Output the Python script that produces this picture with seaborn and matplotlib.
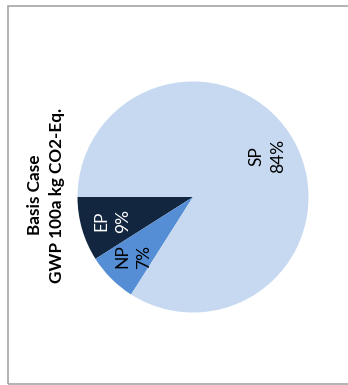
import matplotlib
matplotlib.use("Agg")
import matplotlib.pyplot as plt
import seaborn as sns
from matplotlib.patches import Rectangle

sns.set_theme(style="white")
plt.rcParams["font.family"] = ["Lato", "DejaVu Sans"]

# Share of GWP 100a (kg CO2-Eq.) per process
categories = ["EP", "NP", "SP"]
shares = [9, 7, 84]
colors = ["#12263f", "#558ed5", "#c6d9f1"]
text_colors = ["white", "black", "black"]
title = "Basis Case\nGWP 100a kg CO2-Eq."

fig = plt.figure(figsize=(3.48, 3.85), dpi=100)
fig.patch.set_facecolor("white")

# chart frame
fig.patches.append(Rectangle((7.5 / 348, 1 / 385), 1.2, 378.5 / 385,
                             transform=fig.transFigure, fill=False,
                             edgecolor="#a6a6a6", linewidth=1.2))

ax = fig.add_axes([77.5 / 348, 72.5 / 385, 231 / 348, 231 / 385])
labels = [f"{c}\n{v}%" for c, v in zip(categories, shares)]
wedges, texts = ax.pie(shares, labels=labels, colors=colors, startangle=180,
                       counterclock=True, labeldistance=0.73,
                       wedgeprops=dict(linewidth=0))
for t, tc in zip(texts, text_colors):
    t.set_rotation(90)
    t.set_ha("center")
    t.set_va("center")
    t.set_color(tc)
    t.set_fontsize(12.5)
    t.set_linespacing(1.45)
ax.set_xlim(-1, 1)
ax.set_ylim(-1, 1)
ax.set_aspect("equal")
ax.axis("off")

fig.text(46 / 348, 1 - 195 / 385, title, rotation=90, ha="center", va="center",
         fontsize=12.3, fontweight="bold", linespacing=1.45, color="black")

fig.savefig("out.png", dpi=100)
